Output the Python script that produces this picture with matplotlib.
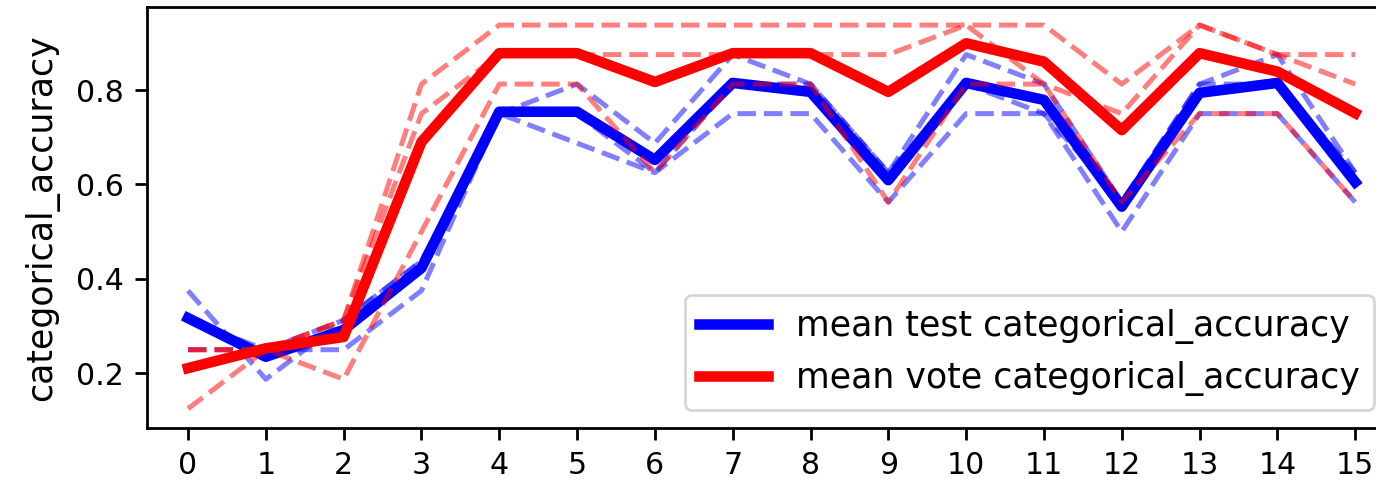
import matplotlib
matplotlib.use("Agg")
import matplotlib.pyplot as plt

epochs = list(range(16))

# per-fold test categorical accuracy (dashed blue)
test_fold_1 = [0.375, 0.1875, 0.3125, 0.4375, 0.75, 0.8125, 0.6875, 0.875, 0.8125, 0.625, 0.875, 0.8125, 0.5625, 0.8125, 0.875, 0.625]
test_fold_2 = [0.3125, 0.25, 0.3125, 0.4375, 0.75, 0.75, 0.625, 0.8125, 0.8125, 0.625, 0.8125, 0.75, 0.5625, 0.8125, 0.8125, 0.625]
test_fold_3 = [0.25, 0.25, 0.25, 0.375, 0.75, 0.6875, 0.625, 0.75, 0.75, 0.5625, 0.75, 0.75, 0.5, 0.75, 0.75, 0.5625]

# per-fold vote categorical accuracy (dashed red)
vote_fold_1 = [0.25, 0.25, 0.3125, 0.8125, 0.9375, 0.9375, 0.9375, 0.9375, 0.9375, 0.9375, 0.9375, 0.9375, 0.8125, 0.9375, 0.875, 0.875]
vote_fold_2 = [0.25, 0.25, 0.3125, 0.75, 0.875, 0.875, 0.875, 0.875, 0.875, 0.875, 0.9375, 0.8125, 0.75, 0.9375, 0.875, 0.8125]
vote_fold_3 = [0.125, 0.25, 0.1875, 0.5, 0.8125, 0.8125, 0.625, 0.8125, 0.8125, 0.5625, 0.8125, 0.8125, 0.5625, 0.75, 0.75, 0.5625]

# means (thick lines)
mean_test = [0.317, 0.235, 0.292, 0.423, 0.754, 0.754, 0.652, 0.815, 0.796, 0.609, 0.815, 0.779, 0.553, 0.794, 0.815, 0.605]
mean_vote = [0.211, 0.253, 0.277, 0.690, 0.878, 0.878, 0.817, 0.878, 0.878, 0.796, 0.899, 0.860, 0.715, 0.878, 0.839, 0.751]

W, H, DPI = 1376, 483, 200
fig = plt.figure(figsize=(W / DPI, H / DPI), dpi=DPI)
ax_left, ax_right, ax_top, ax_bottom = 147, 1391, 7, 428
ax = fig.add_axes([ax_left / W, 1 - ax_bottom / H, (ax_right - ax_left) / W, (ax_bottom - ax_top) / H])

dash_lw = 1.8
thick_lw = 3.8
for f in (test_fold_1, test_fold_2, test_fold_3):
    ax.plot(epochs, f, color="blue", alpha=0.5, lw=dash_lw, linestyle="--")
ax.plot(epochs, mean_test, color="blue", lw=thick_lw, label="mean test categorical_accuracy")
for f in (vote_fold_1, vote_fold_2, vote_fold_3):
    ax.plot(epochs, f, color="red", alpha=0.5, lw=dash_lw, linestyle="--")
ax.plot(epochs, mean_vote, color="red", lw=thick_lw, label="mean vote categorical_accuracy")

ax.set_xlim(-0.527, 15.46)
ax.set_ylim(0.0842, 0.9758)
ax.set_xticks(epochs)
ax.set_yticks([0.2, 0.4, 0.6, 0.8])
ax.tick_params(labelsize=10.8, length=4.2, width=1.0, pad=4.2)
for s in ax.spines.values():
    s.set_linewidth(1.0)
ax.set_ylabel("categorical_accuracy", fontsize=12.5, labelpad=6)

ax.legend(loc="lower right", bbox_to_anchor=(1374 / W, 1 - 410 / H), bbox_transform=fig.transFigure,
          borderaxespad=0, fontsize=12.5)

fig.savefig("out.png", dpi=DPI)
